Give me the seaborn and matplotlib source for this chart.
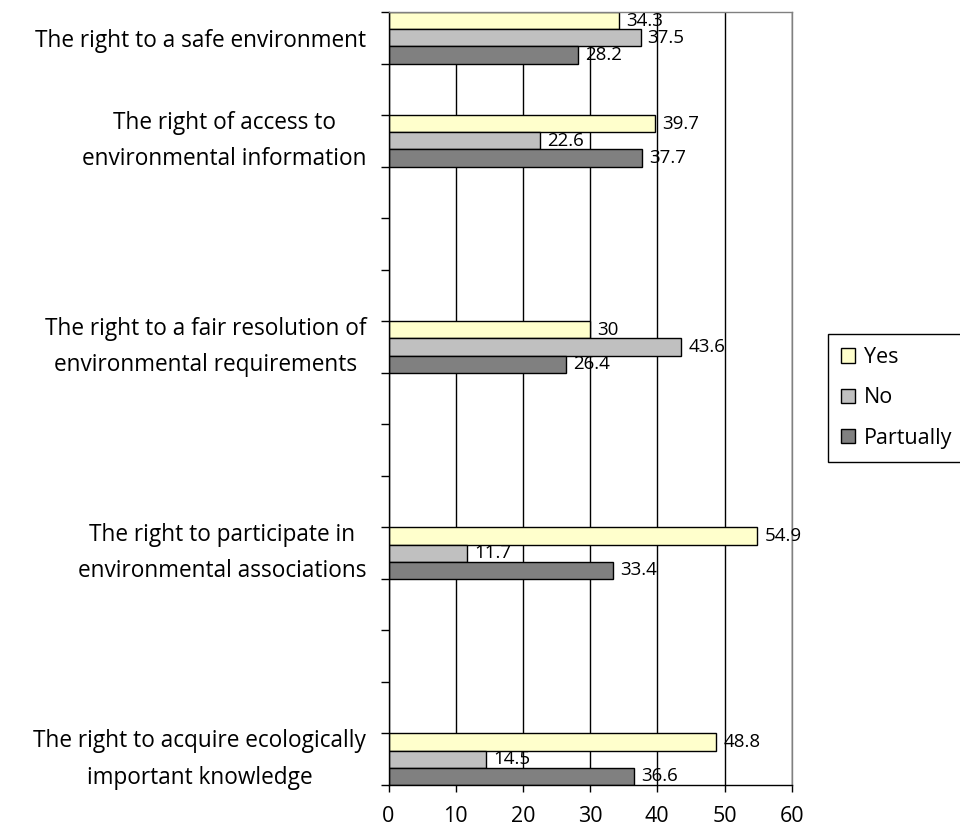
import matplotlib
matplotlib.use("Agg")
import matplotlib.pyplot as plt
from matplotlib.patches import Patch
import numpy as np
import pandas as pd
import seaborn as sns

# Survey categories (line breaks as displayed) and their row slot on the axis
categories = [
    "The right to a safe environment",
    "The right of access to\nenvironmental information",
    "The right to a fair resolution of\nenvironmental requirements",
    "The right to participate in\nenvironmental associations",
    "The right to acquire ecologically\nimportant knowledge",
]
slot_positions = [0, 2, 6, 10, 14]
n_slots = 15

answers = ["Yes", "No", "Partually"]
yes = [34.3, 39.7, 30, 54.9, 48.8]
no = [37.5, 22.6, 43.6, 11.7, 14.5]
partually = [28.2, 37.7, 26.4, 33.4, 36.6]
x_ticks = [0, 10, 20, 30, 40, 50, 60]
colors = ["#FFFFCC", "#C0C0C0", "#808080"]

# Long-form table for seaborn
rows = []
for cat, y_val, n_val, p_val in zip(categories, yes, no, partually):
    rows.append((cat, "Yes", y_val))
    rows.append((cat, "No", n_val))
    rows.append((cat, "Partually", p_val))
df = pd.DataFrame(rows, columns=["category", "answer", "value"])

# Full slot order: empty rows keep the uneven spacing between categories
order = [f"_empty{i}" for i in range(n_slots)]
for pos, cat in zip(slot_positions, categories):
    order[pos] = cat

sns.set_style("white")
plt.rcParams["font.family"] = ["Open Sans", "DejaVu Sans"]
plt.rcParams["text.color"] = "black"
plt.rcParams["xtick.color"] = "black"
plt.rcParams["ytick.color"] = "black"
plt.rcParams["xtick.labelcolor"] = "black"
plt.rcParams["ytick.labelcolor"] = "black"

W, H = 960, 826
fig = plt.figure(figsize=(W / 100, H / 100), dpi=100)
left, right, top, bottom = 388.5, 791.7, 12, 785
ax = fig.add_axes([left / W, 1 - bottom / H, (right - left) / W, (bottom - top) / H])

sns.barplot(
    data=df, x="value", y="category", hue="answer",
    order=order, hue_order=answers, palette=colors,
    orient="h", width=1.0, dodge=True, saturation=1,
    edgecolor="black", linewidth=1.0, errorbar=None,
    legend=False, ax=ax,
)

ax.set_xlim(0, 60)
ax.set_ylim(n_slots - 0.5, -0.5)
ax.set_xlabel("")
ax.set_ylabel("")

# x axis
ax.set_xticks(x_ticks)
ax.set_xticklabels([str(t) for t in x_ticks], fontsize=15.5, color="black")
ax.tick_params(axis="x", which="major", direction="out", length=5, width=1,
               color="black", pad=10, bottom=True)

# y axis: labels at slot centres, tick marks at slot boundaries
ax.set_yticks(range(n_slots))
ax.set_yticklabels([lbl if not lbl.startswith("_empty") else "" for lbl in order],
                   fontsize=16.3, color="black")
for lbl in ax.get_yticklabels():
    lbl.set_multialignment("center")
    lbl.set_linespacing(1.7)
    if "\n" in lbl.get_text():
        lbl.set_verticalalignment("center")
ax.set_yticks(np.arange(-0.5, n_slots, 1.0), minor=True)
ax.tick_params(axis="y", which="major", length=0, pad=16, left=False)
ax.tick_params(axis="y", which="minor", direction="out", length=5.5, width=1,
               color="black", left=True)

# Vertical gridlines behind the bars
ax.set_axisbelow(True)
ax.grid(axis="x", color="black", linewidth=1.0)
ax.grid(axis="y", visible=False)

for side in ["left", "bottom"]:
    ax.spines[side].set_color("black")
    ax.spines[side].set_linewidth(1.0)
for side in ["top", "right"]:
    ax.spines[side].set_color("#808080")
    ax.spines[side].set_linewidth(1.0)

# Value labels at the end of each bar
for container in ax.containers:
    ax.bar_label(container, fmt="%g", padding=5, fontsize=13.5, color="black")

# Legend
handles = [Patch(facecolor=c, edgecolor="black", linewidth=1.0) for c in colors]
leg = fig.legend(
    handles, answers, loc="upper left",
    bbox_to_anchor=(828 / W, 1 - 334 / H), borderaxespad=0,
    frameon=True, fancybox=False, framealpha=1, edgecolor="black",
    fontsize=15.5, handlelength=0.65, handleheight=0.65,
    handletextpad=0.4, labelspacing=0.9, borderpad=0.6,
)
leg.get_frame().set_linewidth(1.0)
for txt in leg.get_texts():
    txt.set_color("black")

fig.savefig("out.png", dpi=100)
